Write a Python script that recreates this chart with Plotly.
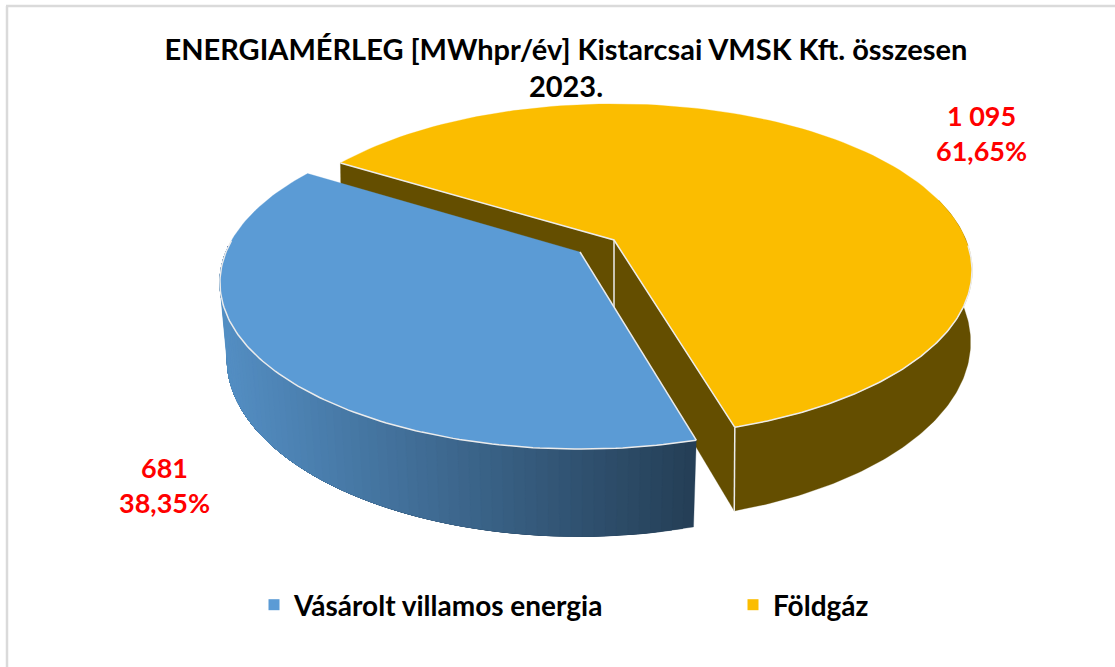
import math
import plotly.graph_objects as go

TITLE = "ENERGIAMÉRLEG [MWhpr/év] Kistarcsai VMSK Kft. összesen<br>2023."
categories = ["Vásárolt villamos energia", "Földgáz"]
values = [681, 1095]
value_labels = ["681", "1 095"]
percent_labels = ["38,35%", "61,65%"]
colors = ["#5B9BD5", "#FBBD00"]
yellow_wall = "#644E00"

W, H = 1115, 667
K = 0.183                          # perspective strength
B = 161.0
G, E = "Földgáz", "Vásárolt villamos energia"
START = {G: -58.4, E: 164.3}       # clock angle at which each slice starts
APEX = {G: (614.0, 240.0), E: (580.0, 252.0)}
HALF_W = {G: 352.0, E: 354.0}
DEPTH = {G: 70.0, E: 77.0}
SHRINK = {G: 0.004, E: 0.02}

total = sum(values)
gaz_sweep = 360.0 * values[1] / total
villany_sweep = 360.0 * values[0] / total
angles = {
    G: (START[G], START[G] + gaz_sweep),
    E: (START[E], START[E] + villany_sweep),
}


def proj(name, r, theta, z=0.0):
    x0, y0 = APEX[name]
    t = math.radians(theta)
    u, v = r * math.sin(t), -r * math.cos(t)
    w = 1 - K * v + SHRINK[name] * z
    return x0 + HALF_W[name] * u / w, y0 + (B * v + DEPTH[name] * z) / w


def arc(name, a, b, z=0.0, n=120):
    return [proj(name, 1, a + (b - a) * i / n, z) for i in range(n + 1)]


fig = go.Figure()


def poly(pts, color):
    fig.add_trace(go.Scatter(
        x=[p[0] for p in pts] + [pts[0][0]], y=[p[1] for p in pts] + [pts[0][1]],
        mode="lines", fill="toself", fillcolor=color,
        line=dict(color=color, width=0.3),
        hoverinfo="skip", showlegend=False))


def edge(pts, color="#ECECEC", width=1.5):
    fig.add_trace(go.Scatter(
        x=[p[0] for p in pts], y=[p[1] for p in pts], mode="lines",
        line=dict(color=color, width=width), hoverinfo="skip", showlegend=False))


ga, gb = angles[G]
ea, eb = angles[E]

# Földgáz: cut walls and outer wall
poly([proj(G, 0, 0), proj(G, 1, ga), proj(G, 1, ga, 1), proj(G, 0, 0, 1)], yellow_wall)
poly([proj(G, 0, 0), proj(G, 1, gb), proj(G, 1, gb, 1), proj(G, 0, 0, 1)], yellow_wall)
poly(arc(G, 75, gb) + arc(G, gb, 75, 1), yellow_wall)
edge([proj(G, 0, 0), proj(G, 0, 0, 1)])
edge([proj(G, 1, gb), proj(G, 1, gb, 1)])

# Villamos energia: outer wall shaded left to right; each band runs on to the
# far end and the next one paints over it, so no seams appear
base = (0x5B, 0x9B, 0xD5)
N = 70
wa, wb = ea, 272.0
for i in range(N):
    a = wa + (wb - wa) * i / N
    b = wa + (wb - wa) * (i + 1) / N
    xm = (proj(E, 1, a, 1)[0] + proj(E, 1, b, 1)[0]) / 2
    f = 0.92 - 0.52 * (xm - 225) / (695 - 225)
    c = "rgb(%d,%d,%d)" % tuple(round(ch * f) for ch in base)
    poly(arc(E, a, wb, 0, 60) + arc(E, wb, a, 1, 60), c)

# Top faces
poly([proj(E, 0, 0)] + arc(E, ea, eb), colors[0])
edge(arc(E, ea, 274))
edge([proj(E, 0, 0), proj(E, 1, ea)])
poly([proj(G, 0, 0)] + arc(G, ga, gb), colors[1])
edge(arc(G, 92, gb))
edge([proj(G, 1, ga), proj(G, 0, 0), proj(G, 1, gb)])

# Legend entries
for name, c, lg in zip(categories, colors, ["legend", "legend2"]):
    fig.add_trace(go.Scatter(
        x=[None], y=[None], mode="markers", name=name, legend=lg,
        marker=dict(symbol="square", size=11, color=c), showlegend=True))

# Data labels
label_pos = {G: (981, 133), E: (164, 485)}
annotations = []
for name, v, p in zip(categories, value_labels, percent_labels):
    x, y = label_pos[name]
    annotations.append(dict(
        x=x, y=y, xref="x", yref="y", showarrow=False, align="center",
        text=f"{v}<br>{p}",
        font=dict(family="Lato, Carlito, sans-serif", size=27, color="#FF0000", weight="bold")))

legend_font = dict(family="Lato, Carlito, sans-serif", size=28, color="black", weight="bold")
fig.update_layout(
    width=W, height=H, margin=dict(l=0, r=0, t=0, b=0),
    paper_bgcolor="white", plot_bgcolor="white",
    xaxis=dict(range=[0, W], visible=False, fixedrange=True, domain=[0, 1]),
    yaxis=dict(range=[H, 0], visible=False, fixedrange=True, domain=[0, 1]),
    title=dict(text=TITLE, x=566 / W, xanchor="center", y=1 - 59.5 / H, yanchor="middle",
               font=dict(family="Lato, Carlito, sans-serif", size=29, color="black", weight="bold")),
    legend=dict(x=254 / W, xanchor="left", y=1 - 605 / H, yanchor="middle",
                font=legend_font, bgcolor="rgba(0,0,0,0)"),
    legend2=dict(x=733 / W, xanchor="left", y=1 - 605 / H, yanchor="middle",
                 font=legend_font, bgcolor="rgba(0,0,0,0)"),
    annotations=annotations,
    shapes=[
        dict(type="line", x0=7, x1=7, y0=6, y1=H, xref="x", yref="y", line=dict(color="#DADADA", width=2.5)),
        dict(type="line", x0=6, x1=W, y0=6, y1=6, xref="x", yref="y", line=dict(color="#DADADA", width=2.5)),
    ],
)
fig.write_html("out.html", post_script="document.body.style.margin='0';",
               config={"displayModeBar": False})
